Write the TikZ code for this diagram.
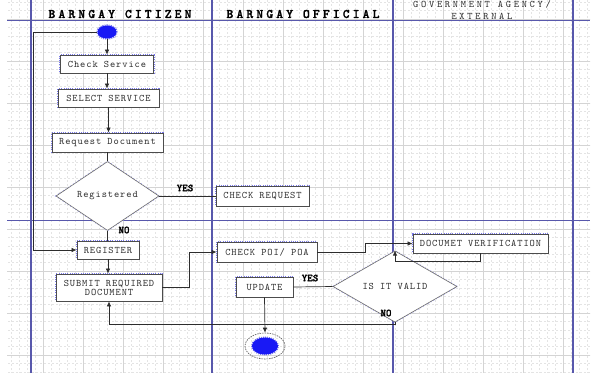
\documentclass[tikz,border=0pt]{standalone}
\usepackage{fontspec}
\usetikzlibrary{shapes.geometric,arrows.meta}
\newfontfamily\hdrface[LetterSpace=24,FakeBold=1.6]{lmmonolt10-bold.otf}
\newfontfamily\agencyface[LetterSpace=27]{lmmono10-regular.otf}
\newfontfamily\boxface[LetterSpace=9]{lmmono10-regular.otf}
\newfontfamily\lblface[FakeBold=1.5]{lmmonolt10-bold.otf}
\definecolor{lane}{RGB}{88,88,172}
\definecolor{ink}{RGB}{45,45,45}
\definecolor{fuzz}{RGB}{120,120,235}
\definecolor{gridminor}{RGB}{228,228,228}
\definecolor{gridmajor}{RGB}{212,212,212}
\definecolor{dot}{RGB}{25,25,245}
\tikzset{
  box/.style={draw=ink!85, line width=0.8pt, fill=white, inner sep=0pt,
    text=ink, font=\boxface\fontsize{10}{11}\selectfont,
    preaction={draw=fuzz, line width=2.2pt, dash pattern=on 1pt off 1.2pt}},
  decide/.style={diamond, draw=ink!70, line width=0.6pt, fill=white, inner sep=0pt,
    text=ink, font=\boxface\fontsize{10}{11}\selectfont,
    preaction={draw=fuzz!70, line width=1.6pt, dash pattern=on 1pt off 2pt}},
  hdr/.style={font=\hdrface\fontsize{13}{15}\selectfont, text=black},
  lbl/.style={font=\lblface\fontsize{10.5}{12}\selectfont, text=black},
  flow/.style={draw=ink, line width=0.7pt},
  arr/.style={flow, -{Latex[length=5pt,width=4.5pt]}},
  laneline/.style={draw=lane, line width=1.4pt},
}
\begin{document}
\begin{tikzpicture}[x=1pt,y=-1pt]
\useasboundingbox (0,0) rectangle (601,380);
\fill[white] (0,0) rectangle (601,380);

% background grid: dashed minor lines, solid major lines
\begin{scope}
\clip (7,0) rectangle (590,373);
\foreach \i in {0,...,73} {
  \draw[gridminor, line width=0.5pt, dash pattern=on 2pt off 2pt] ({3+8*\i},0) -- ({3+8*\i},373);
}
\foreach \i in {0,...,45} {
  \draw[gridminor, line width=0.5pt, dash pattern=on 2pt off 2pt] (0,{2.2+8.4*\i}) -- (601,{2.2+8.4*\i});
}
\foreach \i in {0,...,14} {
  \draw[gridmajor, line width=0.6pt] ({3+40*\i},0) -- ({3+40*\i},373);
}
\foreach \i in {0,...,8} {
  \draw[gridmajor, line width=0.6pt] (0,{19+42*\i}) -- (601,{19+42*\i});
}
\end{scope}

% swimlanes
\draw[laneline] (31,0) -- (31,373);
\draw[laneline] (212,0) -- (212,373);
\draw[laneline] (393,0) -- (393,373);
\draw[laneline] (573,0) -- (573,373);
\draw[laneline, line width=1pt] (7,20) -- (590,20);
\draw[laneline, line width=1pt] (7,220) -- (590,220);

% lane headers
\node[hdr] (hcit) at (120,14) {BARNGAY CITIZEN};
\node[hdr] (hoff) at (303,14) {BARNGAY OFFICIAL};
\node[font=\agencyface\fontsize{10}{12}\selectfont, text=ink, align=center] (hgov) at (482,10)
  {GOVERNMENT AGENCY/\\EXTERNAL};

% start and end
\node[ellipse, fill=dot, minimum width=19pt, minimum height=13pt, inner sep=0pt,
  preaction={draw=fuzz, line width=2.4pt, dash pattern=on 1pt off 1pt}] (start) at (107,32) {};
\node[ellipse, draw=ink!80, line width=0.6pt, dash pattern=on 1.5pt off 1pt,
  minimum width=40pt, minimum height=26pt, inner sep=0pt] (finish) at (265,346) {};
\node[ellipse, fill=dot, minimum width=26pt, minimum height=17pt, inner sep=0pt,
  preaction={draw=fuzz, line width=2pt, dash pattern=on 1pt off 1pt}] (finishdot) at (265,346) {};

% activities
\node[box, minimum width=93pt, minimum height=18pt] (check) at (107,64) {Check Service};
\node[box, minimum width=101pt, minimum height=18pt] (select) at (108.5,98) {SELECT SERVICE};
\node[box, minimum width=111pt, minimum height=19pt] (request) at (107.5,142.5) {Request Document};
\node[decide, minimum width=103pt, minimum height=49pt] (registered) at (107.5,196) {Registered};
\node[box, minimum width=93pt, minimum height=20pt] (checkreq) at (262.5,196) {CHECK REQUEST};
\node[box, minimum width=62pt, minimum height=18pt] (register) at (108,250) {REGISTER};
\node[box, minimum width=106pt, minimum height=27pt, align=center] (submit) at (109,287.5)
  {SUBMIT REQUIRED\\[-2pt]DOCUMENT};
\node[box, minimum width=100pt, minimum height=20pt] (poi) at (267,252) {CHECK POI/ POA};
\node[box, minimum width=135pt, minimum height=19pt] (verify) at (480.5,243.5) {DOCUMET VERIFICATION};
\node[decide, minimum width=124pt, minimum height=43pt] (valid) at (395,286.5) {IS IT VALID};
\node[box, minimum width=57pt, minimum height=20pt] (update) at (264.5,287) {UPDATE};

% routing points
\coordinate (loopL) at (33,250);
\coordinate (xa) at (189,0);
\coordinate (xb) at (365,0);
\coordinate (yb) at (0,261);
\coordinate (yc) at (0,324);

% connectors
\draw[arr] (start) -- (check);
\draw[arr] (check.south) -- (check.south |- select.north);
\draw[arr] (select.south) -- (select.south |- request.north);
\draw[flow] (request.south) -- (request.south |- registered.north);
\draw[flow] (registered.east) -- (checkreq.west);
\draw[flow] (registered.south) -- (registered.south |- register.north);
\draw[arr] (start.west) -| (loopL) -- (register.west);
\draw[arr] (register.south) -- (register.south |- submit.north);
\draw[arr] (submit.east) -- (submit.east -| xa) -- (poi.west -| xa) -- (poi.west);
\draw[arr] (poi.east) -- (poi.east -| xb) -- (verify.west -| xb) -- (verify.west);
\draw[arr] (verify.south) -- (verify.south |- yb) -- (valid.north |- yb) -- (valid.north);
\draw[flow] (valid.west) -- (update.east);
\draw[arr] (valid.south) -- (valid.south |- yc) -- (submit.south |- yc) -- (submit.south);
\draw[arr] (update.south) -- (finish.north);

% branch labels
\node[lbl] (yes1) at (185,188) {YES};
\node[lbl] (no1) at (124,230) {NO};
\node[lbl] (yes2) at (310,278) {YES};
\node[lbl] (no2) at (386,313) {NO};
\end{tikzpicture}
\end{document}
